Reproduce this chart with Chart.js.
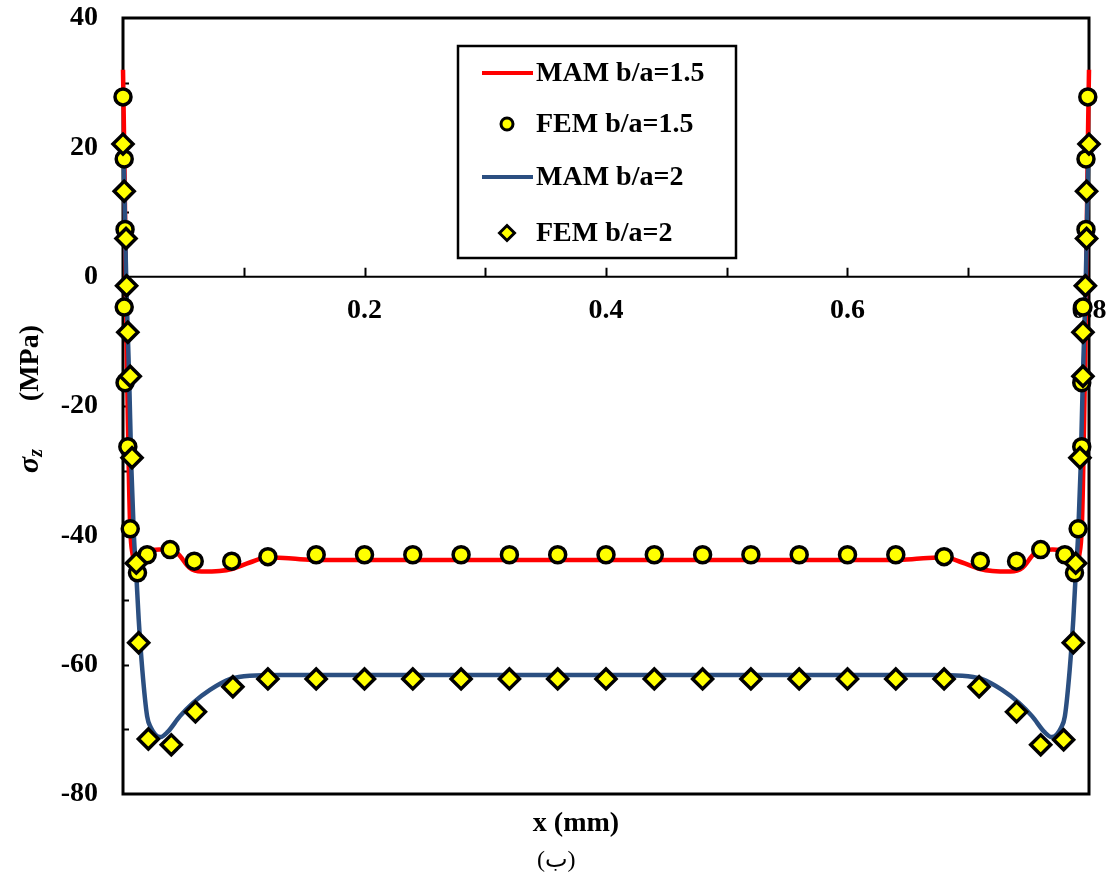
<!DOCTYPE html>
<html>
<head>
<meta charset="utf-8">
<script src="https://cdn.jsdelivr.net/npm/chart.js@4.4.1/dist/chart.umd.min.js"></script>
<style>
  html, body { margin: 0; padding: 0; background: #fff; }
  #wrap { width: 1112px; height: 879px; }
</style>
</head>
<body>
<div id="wrap"><canvas id="chart" width="1112" height="879"></canvas></div>
<script>
// MAM b/a=1.5 (analytical curve)
const mam15X = [0, 0.001, 0.002, 0.003, 0.004, 0.005, 0.006, 0.008, 0.011, 0.015, 0.02, 0.03, 0.045, 0.055,
  0.065, 0.08, 0.09, 0.105, 0.12, 0.14, 0.16, 0.2, 0.3, 0.4, 0.5, 0.6, 0.64, 0.66, 0.68, 0.695, 0.71, 0.72,
  0.735, 0.745, 0.755, 0.77, 0.78, 0.785, 0.789, 0.792, 0.794, 0.795, 0.796, 0.797, 0.798, 0.799, 0.8];
const mam15Y = [32, 20, 5, -10, -22, -32, -39, -43, -44.5, -43.5, -42.5, -42.2, -42.8, -45.0,
  -45.6, -45.5, -45.2, -44.2, -43.4, -43.6, -43.8, -43.8, -43.8, -43.8, -43.8, -43.8, -43.8, -43.6, -43.4, -44.2, -45.2, -45.5,
  -45.6, -45.0, -42.8, -42.2, -42.5, -43.5, -44.5, -43, -39, -32, -22, -10, 5, 20, 32];

// FEM b/a=1.5
const fem15X = [0, 0.001, 0.0017, 0.001, 0.0017, 0.004, 0.006, 0.012, 0.02, 0.039, 0.059, 0.09,
  0.12, 0.16, 0.2, 0.24, 0.28, 0.32, 0.36, 0.4, 0.44, 0.48, 0.52, 0.56, 0.6, 0.64, 0.68,
  0.71, 0.74, 0.76, 0.78, 0.788, 0.791, 0.794, 0.794, 0.795, 0.7975, 0.7975, 0.799];
const fem15Y = [27.8, 18.2, 7.3, -4.7, -16.4, -26.3, -39.0, -45.8, -43, -42.2, -44, -44,
  -43.3, -43, -43, -43, -43, -43, -43, -43, -43, -43, -43, -43, -43, -43, -43.3,
  -44, -44, -42.2, -43, -45.8, -39.0, -26.3, -16.4, -4.7, 7.3, 18.2, 27.8];

// MAM b/a=2 (analytical curve)
const mam2X = [0, 0.001, 0.002, 0.003, 0.005, 0.007, 0.009, 0.011, 0.013, 0.016, 0.02, 0.023, 0.031,
  0.037, 0.047, 0.058, 0.072, 0.089, 0.105, 0.13, 0.2, 0.3, 0.4, 0.5, 0.6, 0.67, 0.695, 0.711, 0.728,
  0.742, 0.753, 0.763, 0.769, 0.777, 0.78, 0.784, 0.787, 0.789, 0.791, 0.793, 0.795, 0.797, 0.798, 0.799, 0.8];
const mam2Y = [22, 15, 5, -3, -15, -30, -40, -46, -53, -60.8, -68, -69.7, -71.2,
  -70.4, -68, -65.9, -63.9, -62.2, -61.7, -61.6, -61.6, -61.6, -61.6, -61.6, -61.6, -61.6, -61.7, -62.2, -63.9,
  -65.9, -68, -70.4, -71.2, -69.7, -68, -60.8, -53, -46, -40, -30, -15, -3, 5, 15, 22];

// FEM b/a=2
const fem2X = [0, 0.001, 0.0025, 0.003, 0.004, 0.006, 0.0075, 0.011, 0.013, 0.021, 0.04, 0.06, 0.091,
  0.12, 0.16, 0.2, 0.24, 0.28, 0.32, 0.36, 0.4, 0.44, 0.48, 0.52, 0.56, 0.6, 0.64, 0.68,
  0.709, 0.74, 0.76, 0.779, 0.787, 0.789, 0.7925, 0.795, 0.795, 0.797, 0.798, 0.798, 0.8];
const fem2Y = [20.5, 13.2, 5.9, -1.4, -8.6, -15.4, -28.0, -44.3, -56.6, -71.5, -72.4, -67.3, -63.4,
  -62.2, -62.2, -62.2, -62.2, -62.2, -62.2, -62.2, -62.2, -62.2, -62.2, -62.2, -62.2, -62.2, -62.2, -62.2,
  -63.4, -67.3, -72.4, -71.6, -56.6, -44.3, -28.0, -15.4, -8.6, -1.4, 5.9, 13.2, 20.5];

const yMin = -80;
const yMax = 40;
const xMin = 0;
const xMax = 0.8;
const seriesNames = ['MAM b/a=1.5', 'FEM b/a=1.5', 'MAM b/a=2', 'FEM b/a=2'];
const xTitle = 'x (mm)';
const caption = '(ب)';

const RED = '#ff0000';
const BLUE = '#2b4f81';
const YELLOW = '#ffff00';
const FONT = "'Liberation Serif', 'Times New Roman', serif";

Chart.defaults.font.family = FONT;
Chart.defaults.color = '#000';

function toPoints(xs, ys) {
  return xs.map((x, i) => ({x: x, y: ys[i]}));
}

// frame, axis line at y=0, inner tick marks, titles and legend box
const framePlugin = {
  id: 'frame',
  beforeDatasetsDraw(chart) {
    const {ctx, chartArea: a, scales: {x, y}} = chart;
    const y0 = y.getPixelForValue(0);
    ctx.save();
    ctx.strokeStyle = '#000';
    ctx.lineWidth = 2;
    ctx.beginPath();
    ctx.moveTo(a.left, y0);
    ctx.lineTo(a.right, y0);
    for (let v = 0.1; v < 0.75; v += 0.1) {
      const px = Math.round(x.getPixelForValue(v)) + 0.5;
      ctx.moveTo(px, y0);
      ctx.lineTo(px, y0 - 9);
    }
    ctx.stroke();
    ctx.beginPath();
    for (let v = -70; v <= 30; v += 10) {
      const py = Math.round(y.getPixelForValue(v)) + 0.5;
      ctx.moveTo(a.left, py);
      ctx.lineTo(a.left + 6, py);
    }
    ctx.stroke();
    ctx.lineWidth = 3;
    ctx.strokeRect(a.left, a.top, a.right - a.left, a.bottom - a.top);
    ctx.restore();
  },
  afterDraw(chart) {
    const ctx = chart.ctx;
    const ds = chart.data.datasets;

    // x title and caption
    ctx.save();
    ctx.fillStyle = '#000';
    ctx.textBaseline = 'middle';
    ctx.textAlign = 'center';
    ctx.font = 'bold 28px ' + FONT;
    ctx.fillText(xTitle, 576, 824);
    ctx.direction = 'ltr';
    ctx.textAlign = 'left';
    ctx.font = "24px 'Liberation Serif', 'DejaVu Sans', serif";
    ctx.fillText(caption, 537, 861);
    ctx.restore();

    // y axis title: sigma_z (MPa)
    ctx.save();
    ctx.fillStyle = '#000';
    ctx.translate(38, 473);
    ctx.rotate(-Math.PI / 2);
    ctx.textBaseline = 'alphabetic';
    ctx.textAlign = 'left';
    ctx.font = 'italic bold 30px ' + FONT;
    ctx.fillText('σ', 0, 0);
    const sw = ctx.measureText('σ').width;
    ctx.font = 'italic bold 20px ' + FONT;
    ctx.fillText('z', sw, 4);
    ctx.font = 'bold 28px ' + FONT;
    ctx.textAlign = 'right';
    ctx.fillText('(MPa)', 148, 0);
    ctx.restore();

    // legend box
    ctx.save();
    ctx.fillStyle = '#fff';
    ctx.fillRect(458, 46, 278, 212);
    ctx.strokeStyle = '#000';
    ctx.lineWidth = 2.5;
    ctx.strokeRect(458, 46, 278, 212);
    const rows = [73, 124, 177, 233];
    ctx.font = 'bold 28px ' + FONT;
    ctx.textBaseline = 'middle';
    ctx.textAlign = 'left';
    ds.forEach((d, i) => {
      const ry = rows[i];
      if (d.showLine) {
        ctx.strokeStyle = d.borderColor;
        ctx.lineWidth = 4;
        ctx.beginPath();
        ctx.moveTo(482, ry);
        ctx.lineTo(533, ry);
        ctx.stroke();
      } else {
        ctx.fillStyle = d.backgroundColor;
        ctx.strokeStyle = d.borderColor;
        ctx.lineWidth = 3;
        Chart.helpers.drawPoint(ctx, {
          pointStyle: d.pointStyle,
          radius: d.pointStyle === 'circle' ? 6 : 7.5,
          borderWidth: 3,
          rotation: 0
        }, 507, ry);
      }
      ctx.fillStyle = '#000';
      ctx.fillText(d.label, 536, ry + 1);
    });
    ctx.restore();
  }
};

new Chart(document.getElementById('chart'), {
  type: 'scatter',
  data: {
    datasets: [
      {
        label: seriesNames[0],
        data: toPoints(mam15X, mam15Y),
        showLine: true,
        borderColor: RED,
        borderWidth: 4.5,
        pointRadius: 0,
        cubicInterpolationMode: 'monotone',
        clip: false,
        order: 4
      },
      {
        label: seriesNames[1],
        data: toPoints(fem15X, fem15Y),
        showLine: false,
        pointStyle: 'circle',
        pointRadius: 8,
        pointBorderWidth: 3.5,
        backgroundColor: YELLOW,
        borderColor: '#000',
        clip: false,
        order: 2
      },
      {
        label: seriesNames[2],
        data: toPoints(mam2X, mam2Y),
        showLine: true,
        borderColor: BLUE,
        borderWidth: 4.5,
        pointRadius: 0,
        cubicInterpolationMode: 'monotone',
        clip: false,
        order: 3
      },
      {
        label: seriesNames[3],
        data: toPoints(fem2X, fem2Y),
        showLine: false,
        pointStyle: 'rectRot',
        pointRadius: 10,
        pointBorderWidth: 3.5,
        backgroundColor: YELLOW,
        borderColor: '#000',
        clip: false,
        order: 1
      }
    ]
  },
  options: {
    responsive: false,
    animation: false,
    layout: {padding: {top: 18, right: 23, left: 0, bottom: 0}},
    plugins: {
      legend: {display: false},
      tooltip: {enabled: false},
      title: {display: false}
    },
    scales: {
      x: {
        type: 'linear',
        min: xMin,
        max: xMax,
        position: {y: 0},
        grid: {display: false, drawTicks: false},
        border: {display: false},
        ticks: {
          stepSize: 0.2,
          padding: 17,
          maxRotation: 0,
          font: {size: 28, weight: 'bold'},
          callback: (v) => (v === 0 ? '' : v.toFixed(1))
        },
        afterFit(scale) { scale.paddingLeft = 0; scale.paddingRight = 0; }
      },
      x2: {
        type: 'linear',
        axis: 'x',
        position: 'bottom',
        min: xMin,
        max: xMax,
        grid: {display: false, drawTicks: false},
        border: {display: false},
        ticks: {display: false},
        afterFit(scale) { scale.height = 85; scale.paddingLeft = 0; scale.paddingRight = 0; }
      },
      y: {
        type: 'linear',
        min: yMin,
        max: yMax,
        grid: {display: false, drawTicks: false},
        border: {display: false},
        ticks: {
          stepSize: 20,
          padding: 25,
          font: {size: 28, weight: 'bold'}
        },
        afterFit(scale) { scale.width = 123; scale.paddingTop = 0; scale.paddingBottom = 0; }
      }
    }
  },
  plugins: [framePlugin]
});
</script>
</body>
</html>
